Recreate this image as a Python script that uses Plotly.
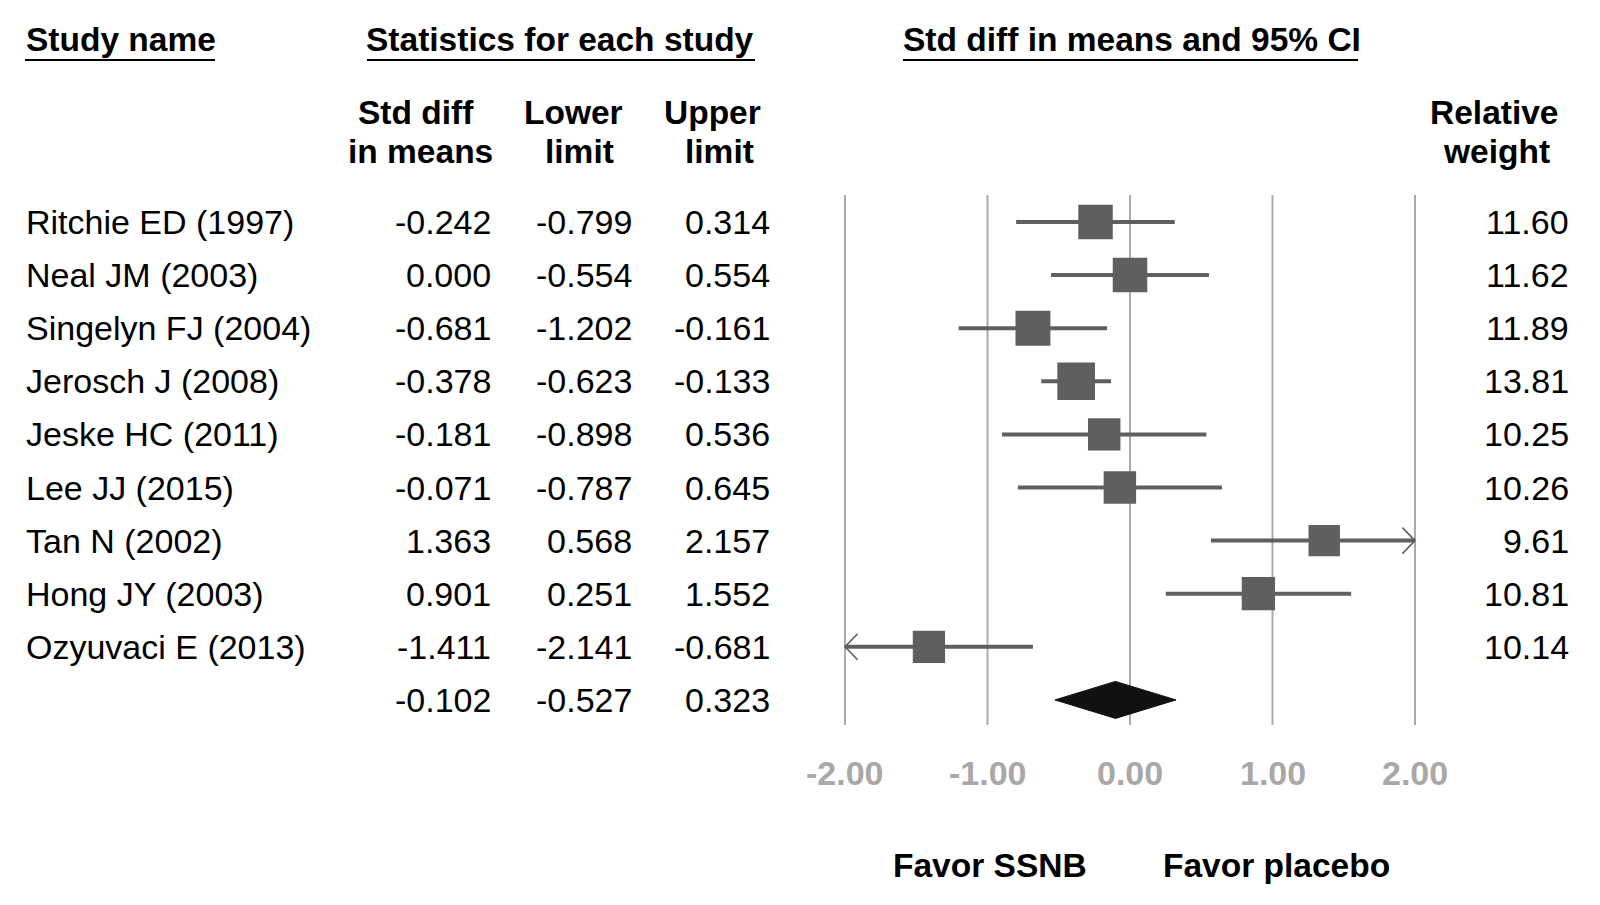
import math
import plotly.graph_objects as go

# ---------------- data ----------------
studies = ["Ritchie ED (1997)", "Neal JM (2003)", "Singelyn FJ (2004)", "Jerosch J (2008)",
           "Jeske HC (2011)", "Lee JJ (2015)", "Tan N (2002)", "Hong JY (2003)", "Ozyuvaci E (2013)"]
std_diff = [-0.242, 0.000, -0.681, -0.378, -0.181, -0.071, 1.363, 0.901, -1.411]
lower_limit = [-0.799, -0.554, -1.202, -0.623, -0.898, -0.787, 0.568, 0.251, -2.141]
upper_limit = [0.314, 0.554, -0.161, -0.133, 0.536, 0.645, 2.157, 1.552, -0.681]
rel_weight = [11.60, 11.62, 11.89, 13.81, 10.25, 10.26, 9.61, 10.81, 10.14]
summary = {"diff": -0.102, "lower": -0.527, "upper": 0.323}
x_ticks = [-2, -1, 0, 1, 2]
x_tick_labels = ["-2.00", "-1.00", "0.00", "1.00", "2.00"]

# ---------------- geometry (page pixels) ----------------
W, H = 1600, 905
OFF = 8                     # page body margin
X0, XS = 1130.0, 142.5      # page pixel of x=0, pixels per unit
Y0, YS = 222.0, 53.1        # page pixel of first row, pixels per row
XMIN, XMAX = x_ticks[0], x_ticks[-1]

def py(px):  # page pixel y -> row coordinate
    return (px - Y0) / YS

def pxp(px):  # page pixel x -> paper
    return (px - OFF) / W

def pyp(px):  # page pixel y -> paper
    return 1 - (px - OFF) / H

FONT = "Liberation Sans, Arial, sans-serif"
BODY = 34
HEAD = 33.5
GREY = "#5f5f5f"

fig = go.Figure()

# CI lines (clipped to axis)
xs, ys = [], []
for i, (lo, hi) in enumerate(zip(lower_limit, upper_limit)):
    xs += [max(lo, XMIN), min(hi, XMAX), None]
    ys += [i, i, None]
fig.add_trace(go.Scatter(x=xs, y=ys, mode="lines", line=dict(color=GREY, width=4),
                         hoverinfo="skip", showlegend=False))

# arrowheads for clipped CIs
AD, AH = 12.6 / XS, 13.0 / YS
axs, ays = [], []
for i, (lo, hi) in enumerate(zip(lower_limit, upper_limit)):
    if hi > XMAX:
        axs += [XMAX - AD, XMAX, XMAX - AD, None]
        ays += [i - AH, i, i + AH, None]
    if lo < XMIN:
        axs += [XMIN + AD, XMIN, XMIN + AD, None]
        ays += [i - AH, i, i + AH, None]
fig.add_trace(go.Scatter(x=axs, y=ays, mode="lines", line=dict(color=GREY, width=1.6),
                         hoverinfo="skip", showlegend=False))

# squares sized by weight (area proportional)
MS = 34.5 / math.sqrt(11.6)
fig.add_trace(go.Scatter(
    x=std_diff, y=list(range(len(studies))), mode="markers",
    marker=dict(symbol="square", color=GREY, opacity=1,
                size=[MS * math.sqrt(w) for w in rel_weight], line=dict(width=0)),
    hoverinfo="skip", showlegend=False))

# summary diamond
sr = len(studies)
DH = 18.5 / YS
fig.add_trace(go.Scatter(
    x=[summary["lower"], summary["diff"], summary["upper"], summary["diff"], summary["lower"]],
    y=[sr, sr - DH, sr, sr + DH, sr],
    mode="lines", fill="toself", fillcolor="#111111", line=dict(color="#111111", width=1),
    hoverinfo="skip", showlegend=False))

shapes = []
# vertical grid lines
for t in x_ticks:
    shapes.append(dict(type="line", xref="x", yref="y", x0=t, x1=t, y0=py(195), y1=py(725),
                       line=dict(color="#aaaaaa", width=2), layer="below"))
# header underlines
for a, b in [(25, 215), (367, 755), (903, 1358)]:
    shapes.append(dict(type="line", xref="paper", yref="paper", x0=pxp(a), x1=pxp(b),
                       y0=pyp(60), y1=pyp(60), line=dict(color="#000000", width=2)))

ann = []

def txt(text, x, y, anchor="center", size=BODY, color="#000000", bold=False, yref="paper"):
    ann.append(dict(text=f"<b>{text}</b>" if bold else text, x=pxp(x),
                    y=y if yref == "y" else pyp(y),
                    xref="paper", yref=yref, xanchor=anchor, yanchor="middle", showarrow=False,
                    font=dict(family=FONT, size=size, color=color)))

# headers
txt("Study name", 24, 40, "left", size=HEAD, bold=True)
txt("Statistics for each study", 560, 40, size=HEAD, bold=True)
txt("Std diff in means and 95% CI", 1132, 40, size=HEAD, bold=True)
txt("Std diff", 416, 112, size=HEAD, bold=True)
txt("in means", 420, 151, size=HEAD, bold=True)
txt("Lower", 573, 112, size=HEAD, bold=True)
txt("limit", 579, 151, size=HEAD, bold=True)
txt("Upper", 712, 112, size=HEAD, bold=True)
txt("limit", 719, 151, size=HEAD, bold=True)
txt("Relative", 1494, 112, size=HEAD, bold=True)
txt("weight", 1496, 151, size=HEAD, bold=True)

# rows
for i, name in enumerate(studies):
    txt(name, 24, i, "left", yref="y")
    txt(f"{std_diff[i]:.3f}", 493, i, "right", yref="y")
    txt(f"{lower_limit[i]:.3f}", 634, i, "right", yref="y")
    txt(f"{upper_limit[i]:.3f}", 772, i, "right", yref="y")
    txt(f"{rel_weight[i]:.2f}", 1571, i, "right", yref="y")
txt(f"{summary['diff']:.3f}", 493, sr, "right", yref="y")
txt(f"{summary['lower']:.3f}", 634, sr, "right", yref="y")
txt(f"{summary['upper']:.3f}", 772, sr, "right", yref="y")

# tick labels
for t, lab in zip(x_ticks, x_tick_labels):
    ann.append(dict(text=f"<b>{lab}</b>", x=t, y=py(773), xref="x", yref="y",
                    xanchor="center", yanchor="middle", showarrow=False,
                    font=dict(family=FONT, size=34, color="#a8a8a8")))

txt("Favor SSNB", 990, 865, size=33.5, bold=True)
txt("Favor placebo", 1276, 865, size=33.5, bold=True)

fig.update_layout(
    width=W, height=H, margin=dict(l=0, r=0, t=0, b=0),
    paper_bgcolor="white", plot_bgcolor="white",
    xaxis=dict(range=[(OFF - X0) / XS, (OFF + W - X0) / XS], visible=False, fixedrange=True),
    yaxis=dict(range=[py(OFF + H), py(OFF)], visible=False, fixedrange=True),
    shapes=shapes, annotations=ann, showlegend=False,
)

fig.write_html("out.html")
